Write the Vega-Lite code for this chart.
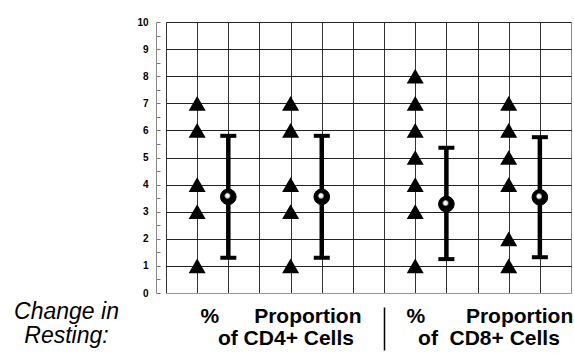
{
  "$schema": "https://vega.github.io/schema/vega-lite/v6.json",
  "width": 405,
  "height": 271,
  "autosize": {"type": "none"},
  "padding": {"left": 166, "top": 22, "right": 3, "bottom": 60},
  "background": "white",
  "config": {"view": {"stroke": null}, "font": "Liberation Sans"},
  "datasets": {
    "individual": [
      {"cells": "CD4+", "measure": "%", "slot": 1, "change": 7},
      {"cells": "CD4+", "measure": "%", "slot": 1, "change": 6},
      {"cells": "CD4+", "measure": "%", "slot": 1, "change": 4},
      {"cells": "CD4+", "measure": "%", "slot": 1, "change": 3},
      {"cells": "CD4+", "measure": "%", "slot": 1, "change": 1},
      {"cells": "CD4+", "measure": "Proportion", "slot": 4, "change": 7},
      {"cells": "CD4+", "measure": "Proportion", "slot": 4, "change": 6},
      {"cells": "CD4+", "measure": "Proportion", "slot": 4, "change": 4},
      {"cells": "CD4+", "measure": "Proportion", "slot": 4, "change": 3},
      {"cells": "CD4+", "measure": "Proportion", "slot": 4, "change": 1},
      {"cells": "CD8+", "measure": "%", "slot": 8, "change": 8},
      {"cells": "CD8+", "measure": "%", "slot": 8, "change": 7},
      {"cells": "CD8+", "measure": "%", "slot": 8, "change": 6},
      {"cells": "CD8+", "measure": "%", "slot": 8, "change": 5},
      {"cells": "CD8+", "measure": "%", "slot": 8, "change": 4},
      {"cells": "CD8+", "measure": "%", "slot": 8, "change": 3},
      {"cells": "CD8+", "measure": "%", "slot": 8, "change": 1},
      {"cells": "CD8+", "measure": "Proportion", "slot": 11, "change": 7},
      {"cells": "CD8+", "measure": "Proportion", "slot": 11, "change": 6},
      {"cells": "CD8+", "measure": "Proportion", "slot": 11, "change": 5},
      {"cells": "CD8+", "measure": "Proportion", "slot": 11, "change": 4},
      {"cells": "CD8+", "measure": "Proportion", "slot": 11, "change": 2},
      {"cells": "CD8+", "measure": "Proportion", "slot": 11, "change": 1}
    ],
    "summary": [
      {"cells": "CD4+", "measure": "%", "slot": 2, "mean": 3.55, "low": 1.3, "high": 5.8},
      {"cells": "CD4+", "measure": "Proportion", "slot": 5, "mean": 3.55, "low": 1.3, "high": 5.8},
      {"cells": "CD8+", "measure": "%", "slot": 9, "mean": 3.28, "low": 1.25, "high": 5.36},
      {"cells": "CD8+", "measure": "Proportion", "slot": 12, "mean": 3.53, "low": 1.32, "high": 5.75}
    ]
  },
  "layer": [
    {
      "data": {"name": "individual"},
      "mark": {"type": "point", "shape": "triangle-up", "filled": true, "color": "black", "size": 290, "opacity": 1},
      "encoding": {
        "x": {
          "field": "slot", "type": "quantitative",
          "scale": {"domain": [0, 13], "nice": false, "zero": false},
          "axis": {
            "values": [0, 1, 1.09, 2, 3, 4, 5, 6, 7, 7.7, 8, 9, 10, 11, 12, 13],
            "tickCount": 200,
            "labelExpr": "datum.value == 1.09 ? ['%\u00a0\u00a0\u00a0\u00a0\u00a0\u00a0Proportion', '\u200b\u00a0\u00a0\u00a0of CD4+ Cells'] : datum.value == 7.7 ? ['%\u00a0\u00a0\u00a0\u00a0\u00a0\u00a0\u00a0Proportion', '\u200b\u00a0\u00a0of\u00a0\u00a0CD8+ Cells'] : ''",
            "domain": false,
            "grid": true,
            "gridColor": {"condition": {"test": "datum.value == 13", "value": "#888"}, "value": "#333"},
            "gridOpacity": {"condition": {"test": "datum.value % 1 == 0", "value": 1}, "value": 0},
            "gridWidth": 1,
            "ticks": true,
            "tickSize": 57,
            "tickDash": [0, 14, 43, 30],
            "tickColor": "black",
            "tickWidth": 1.5,
            "tickOpacity": {"condition": {"test": "datum.value == 7", "value": 1}, "value": 0},
            "labelAlign": "left",
            "labelBaseline": "top",
            "labelPadding": -44.6,
            "labelFontSize": 21,
            "labelFontWeight": "bold",
            "labelLineHeight": 22,
            "labelColor": "black",
            "labelOverlap": false,
            "labelFlush": false,
            "labelBound": false,
            "title": ["Change in", "Resting:"],
            "titleFontStyle": "italic",
            "titleFontWeight": "normal",
            "titleFontSize": 23,
            "titleColor": "black",
            "titleX": -100,
            "titleY": 7,
            "titleAlign": "center",
            "titleBaseline": "top",
            "titleLineHeight": 24
          }
        },
        "y": {
          "field": "change", "type": "quantitative",
          "scale": {"domain": [0, 10], "nice": false, "zero": false},
          "axis": {
            "values": [0, 0.5, 1, 1.5, 2, 2.5, 3, 3.5, 4, 4.5, 5, 5.5, 6, 6.5, 7, 7.5, 8, 8.5, 9, 9.5, 10],
            "tickCount": 200,
            "labelExpr": "datum.value % 1 == 0 ? format(datum.value, 'd') : ''",
            "offset": 10,
            "domainColor": "#888",
            "tickColor": "#777",
            "tickSize": -4,
            "labelFontWeight": "bold",
            "labelFontSize": 10,
            "labelColor": "black",
            "labelPadding": 12,
            "labelOverlap": false,
            "labelFlush": false,
            "grid": true,
            "gridColor": {"condition": {"test": "datum.value == 0", "value": "#999"}, "value": "#222"},
            "gridOpacity": {"condition": {"test": "datum.value % 1 == 0", "value": 1}, "value": 0},
            "title": null
          }
        }
      }
    },
    {
      "data": {"name": "summary"},
      "mark": {"type": "rule", "color": "black", "strokeWidth": 4.5},
      "encoding": {
        "x": {"field": "slot", "type": "quantitative"},
        "y": {"field": "low", "type": "quantitative"},
        "y2": {"field": "high"}
      }
    },
    {
      "data": {"name": "summary"},
      "mark": {"type": "tick", "orient": "horizontal", "color": "black", "size": 16, "thickness": 4, "opacity": 1},
      "encoding": {
        "x": {"field": "slot", "type": "quantitative"},
        "y": {"field": "low", "type": "quantitative"}
      }
    },
    {
      "data": {"name": "summary"},
      "mark": {"type": "tick", "orient": "horizontal", "color": "black", "size": 16, "thickness": 4, "opacity": 1},
      "encoding": {
        "x": {"field": "slot", "type": "quantitative"},
        "y": {"field": "high", "type": "quantitative"}
      }
    },
    {
      "data": {"name": "summary"},
      "mark": {
        "type": "point", "shape": "circle", "filled": true, "size": 245, "opacity": 1,
        "fill": {"gradient": "radial", "x1": 0.42, "y1": 0.4, "r1": 0, "x2": 0.5, "y2": 0.5, "r2": 0.5,
          "stops": [{"offset": 0, "color": "white"}, {"offset": 0.28, "color": "#f0f0f0"}, {"offset": 0.4, "color": "black"}, {"offset": 1, "color": "black"}]},
        "stroke": "black", "strokeWidth": 1
      },
      "encoding": {
        "x": {"field": "slot", "type": "quantitative"},
        "y": {"field": "mean", "type": "quantitative"}
      }
    }
  ]
}
